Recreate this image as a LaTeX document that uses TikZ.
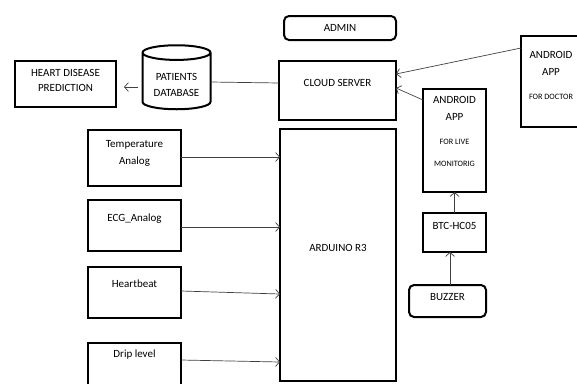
\documentclass[tikz,border=0pt]{standalone}
\usepackage{fontspec}
\setmainfont{Carlito}
\usetikzlibrary{shapes.geometric}
\usetikzlibrary{arrows.meta}
\usetikzlibrary{positioning}
\newcommand{\bigtxt}{\fontsize{11}{17}\selectfont}
\newcommand{\smalltxt}{\fontsize{8.2}{22}\selectfont}

\begin{document}
\begin{tikzpicture}[
    x=1pt, y=-1pt,
    box/.style={
        draw,
        line width=2pt,
        outer sep=0pt,
        inner sep=0pt,
        font=\bigtxt
    },
    rbox/.style={
        box,
        rounded corners=5pt
    },
    intxt/.style={
        anchor=north,
        inner sep=0pt,
        align=center,
        font=\bigtxt,
        yshift=-#1
    },
    arrow/.style={
        ->,
        >={Straight Barb[length=4pt,width=9pt]},
        line width=0.7pt,
        draw=black!75
    },
    link/.style={
        line width=0.7pt,
        draw=black!75
    }
]

    \useasboundingbox (0,0) rectangle (577,383);

    % server side
    \node[rbox,minimum width=112pt,minimum height=24pt] (admin)
    at (340,28)
    {
        ADMIN
    };

    \node[box,minimum width=117pt,minimum height=59pt,
        label={[intxt=18pt]north:CLOUD SERVER}] (cloud)
    at (337.5,90.5) {};

    \node[cylinder,shape border rotate=90,draw,line width=2pt,outer sep=0pt,
        aspect=2.2,minimum width=68pt,minimum height=64pt,
        label={[intxt=28pt,font=\fontsize{11}{16}\selectfont]north:PATIENTS\\DATABASE}] (db)
    at (176.5,83) {};

    \node[box,minimum width=101pt,minimum height=46pt,
        label={[intxt=8pt,font=\fontsize{11}{15}\selectfont]north:HEART DISEASE\\PREDICTION}] (hdp)
    at (65.5,84) {};

    \node[box,minimum width=60pt,minimum height=91pt,
        label={[intxt=15pt]north:ANDROID\\APP},
        label={[intxt=58pt,font=\smalltxt]north:FOR DOCTOR}] (doctor)
    at (551,81.5) {};

    % board and sensors
    \node[box,minimum width=116pt,minimum height=252pt,
        label={[intxt=115pt]north:ARDUINO R3}] (arduino)
    at (338,255) {};

    \node[box,minimum width=93pt,minimum height=56pt,
        label={[intxt=10pt]north:Temperature\\Analog}] (temp)
    at (134.5,158) {};

    \node[box,minimum width=93pt,minimum height=51pt,
        label={[intxt=14pt]north:ECG\_Analog}] (ecg)
    [below=14pt of temp] {};

    \node[box,minimum width=93pt,minimum height=51pt,
        label={[intxt=13pt]north:Heartbeat}] (heart)
    [below=16pt of ecg] {};

    \node[box,minimum width=93pt,minimum height=55pt,
        label={[intxt=7pt]north:Drip level}] (drip)
    [below=25pt of heart] {};

    % phone link
    \node[box,minimum width=63pt,minimum height=103pt,
        label={[intxt=7pt]north:ANDROID\\APP},
        label={[intxt=50pt,font=\smalltxt]north:FOR LIVE\\MONITORIG}] (live)
    at (454.5,140.5) {};

    \node[box,minimum width=63pt,minimum height=39pt,
        label={[intxt=9pt]north:BTC-HC05}] (btc)
    [below=21pt of live] {};

    \node[rbox,minimum width=77pt,minimum height=32pt,
        label={[intxt=8pt]north:BUZZER}] (buzzer)
    [below=33pt of btc,xshift=-7pt] {};


    \draw[arrow,shorten <=4pt,shorten >=8pt]
    (db.west |- 0,87) -- (hdp.east |- 0,87);

    \draw[link]
    (db.east |- 0,82) -- (cloud.west |- 0,83);

    \draw[arrow]
    (doctor.west |- 0,48) -- (cloud.east |- 0,74);

    \draw[arrow]
    (live.west |- 0,100) -- (cloud.east |- 0,88);

    \draw[arrow]
    (btc.north) -- (live.south);

    \draw[arrow]
    (buzzer.north -| 450,0) -- (btc.south -| 450,0);

    \draw[arrow]
    (temp.east |- 0,157) -- (arduino.west |- 0,157);

    \draw[arrow]
    (ecg.east |- 0,227) -- (arduino.west |- 0,227);

    \draw[arrow]
    (heart.east |- 0,291) -- (arduino.west |- 0,294);

    \draw[arrow]
    (drip.east |- 0,360) -- (arduino.west |- 0,362);

\end{tikzpicture}
\end{document}
